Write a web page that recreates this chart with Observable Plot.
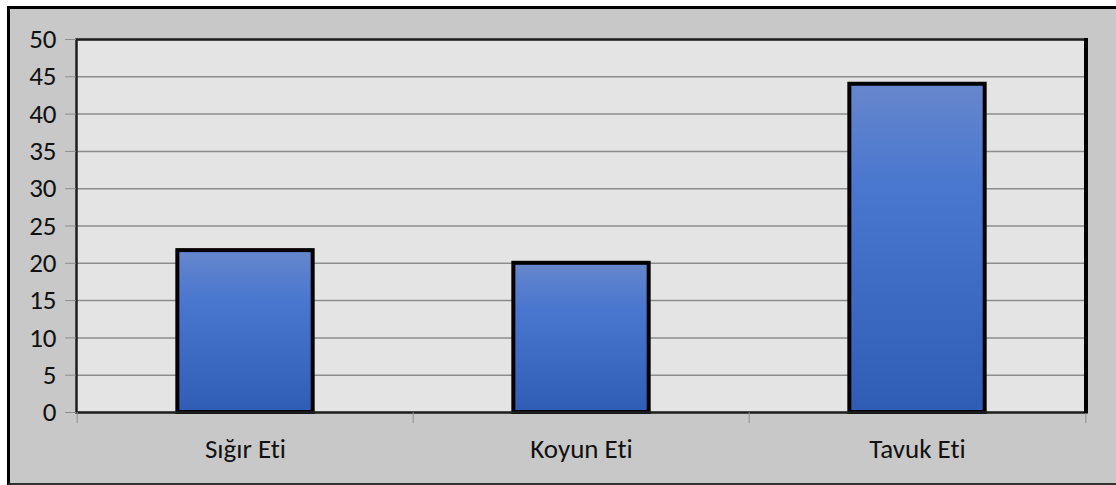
<!DOCTYPE html>
<html>
<head>
<meta charset="utf-8">
<script src="https://cdn.jsdelivr.net/npm/d3@7"></script>
<script src="https://cdn.jsdelivr.net/npm/@observablehq/plot@0.6"></script>
<style>
  html, body { margin: 0; padding: 0; background: #ffffff; }
  #chart {
    position: absolute;
    left: 7px;
    top: 6px;
    width: 1109px;
    height: 474px;
    background: #c8c8c8;
    border-left: 3px solid #000;
    border-top: 3px solid #000;
    border-bottom: 2px solid #333;
    overflow: hidden;
  }
  #chart svg { display: block; }
  #chart svg text { font-variant-ligatures: none; font-feature-settings: "liga" 0; }
</style>
</head>
<body>
<div id="chart"></div>
<script>
// Meat categories and their values
const categories = ["Sığır Eti", "Koyun Eti", "Tavuk Eti"];
const values = [21.7, 20, 44];
const yTicks = [0, 5, 10, 15, 20, 25, 30, 35, 40, 45, 50];

const data = categories.map((c, i) => ({category: c, value: values[i]}));

const width = 1106;
const height = 474;
const marginLeft = 66;
const marginRight = 30;
const marginTop = 30;
const marginBottom = 71;
const bandWidth = (width - marginLeft - marginRight) / categories.length;
const barWidth = 136;
const fontFamily = "Carlito, Calibri, Lato, 'Noto Sans', sans-serif";
const fontSize = 27;

const chart = Plot.plot({
  width,
  height,
  marginLeft,
  marginRight,
  marginTop,
  marginBottom,
  style: {background: "transparent", fontFamily, fontSize: fontSize + "px", color: "#111"},
  x: {domain: categories, padding: 0, label: null},
  y: {domain: [0, 50], label: null},
  marks: [
    // plot area fill
    Plot.frame({fill: "#e4e4e4", stroke: null}),
    // horizontal gridlines
    Plot.gridY(yTicks, {stroke: "#8c8c8c", strokeOpacity: 1, strokeWidth: 1.5}),
    // bars with a vertical gradient and heavy black outline
    Plot.barY(data, {
      x: "category",
      y: "value",
      fill: "url(#barGradient)",
      stroke: "#000",
      strokeWidth: 4,
      insetLeft: (bandWidth - barWidth) / 2,
      insetRight: (bandWidth - barWidth) / 2
    }),
    // plot area border
    Plot.frame({stroke: "#1e1e1e", strokeWidth: 2.5}),
    // y axis: gray ticks, dark labels
    Plot.axisY(yTicks, {
      tickSize: 11,
      tickPadding: 9,
      stroke: "#8c8c8c",
      fill: "#111",
      fontSize,
      label: null
    }),
    // x axis labels centered under each bar
    Plot.axisX({
      tickSize: 0,
      tickPadding: 26,
      fill: "#111",
      fontSize,
      label: null
    }),
    // x axis tick marks at category boundaries
    Plot.axisX({
      tickSize: 11,
      text: null,
      stroke: "#8c8c8c",
      dx: -bandWidth / 2,
      label: null
    }),
    Plot.axisX([categories[categories.length - 1]], {
      tickSize: 11,
      text: null,
      stroke: "#8c8c8c",
      dx: bandWidth / 2,
      label: null
    })
  ]
});

// gradient used by the bars
const svg = d3.select(chart);
const defs = svg.insert("defs", ":first-child");
const grad = defs.append("linearGradient")
  .attr("id", "barGradient")
  .attr("x1", 0).attr("y1", 0)
  .attr("x2", 0).attr("y2", 1);
grad.append("stop").attr("offset", "0%").attr("stop-color", "#6687cc");
grad.append("stop").attr("offset", "30%").attr("stop-color", "#4a77cf");
grad.append("stop").attr("offset", "100%").attr("stop-color", "#2f5cb4");

// heavier right edge of the plot area
const xr = chart.scale("x").range[1];
const [yb, yt] = chart.scale("y").range;
svg.append("line")
  .attr("x1", xr).attr("x2", xr)
  .attr("y1", yt - 1).attr("y2", yb + 1)
  .attr("stroke", "#000")
  .attr("stroke-width", 4);

document.getElementById("chart").appendChild(chart);
</script>
</body>
</html>
